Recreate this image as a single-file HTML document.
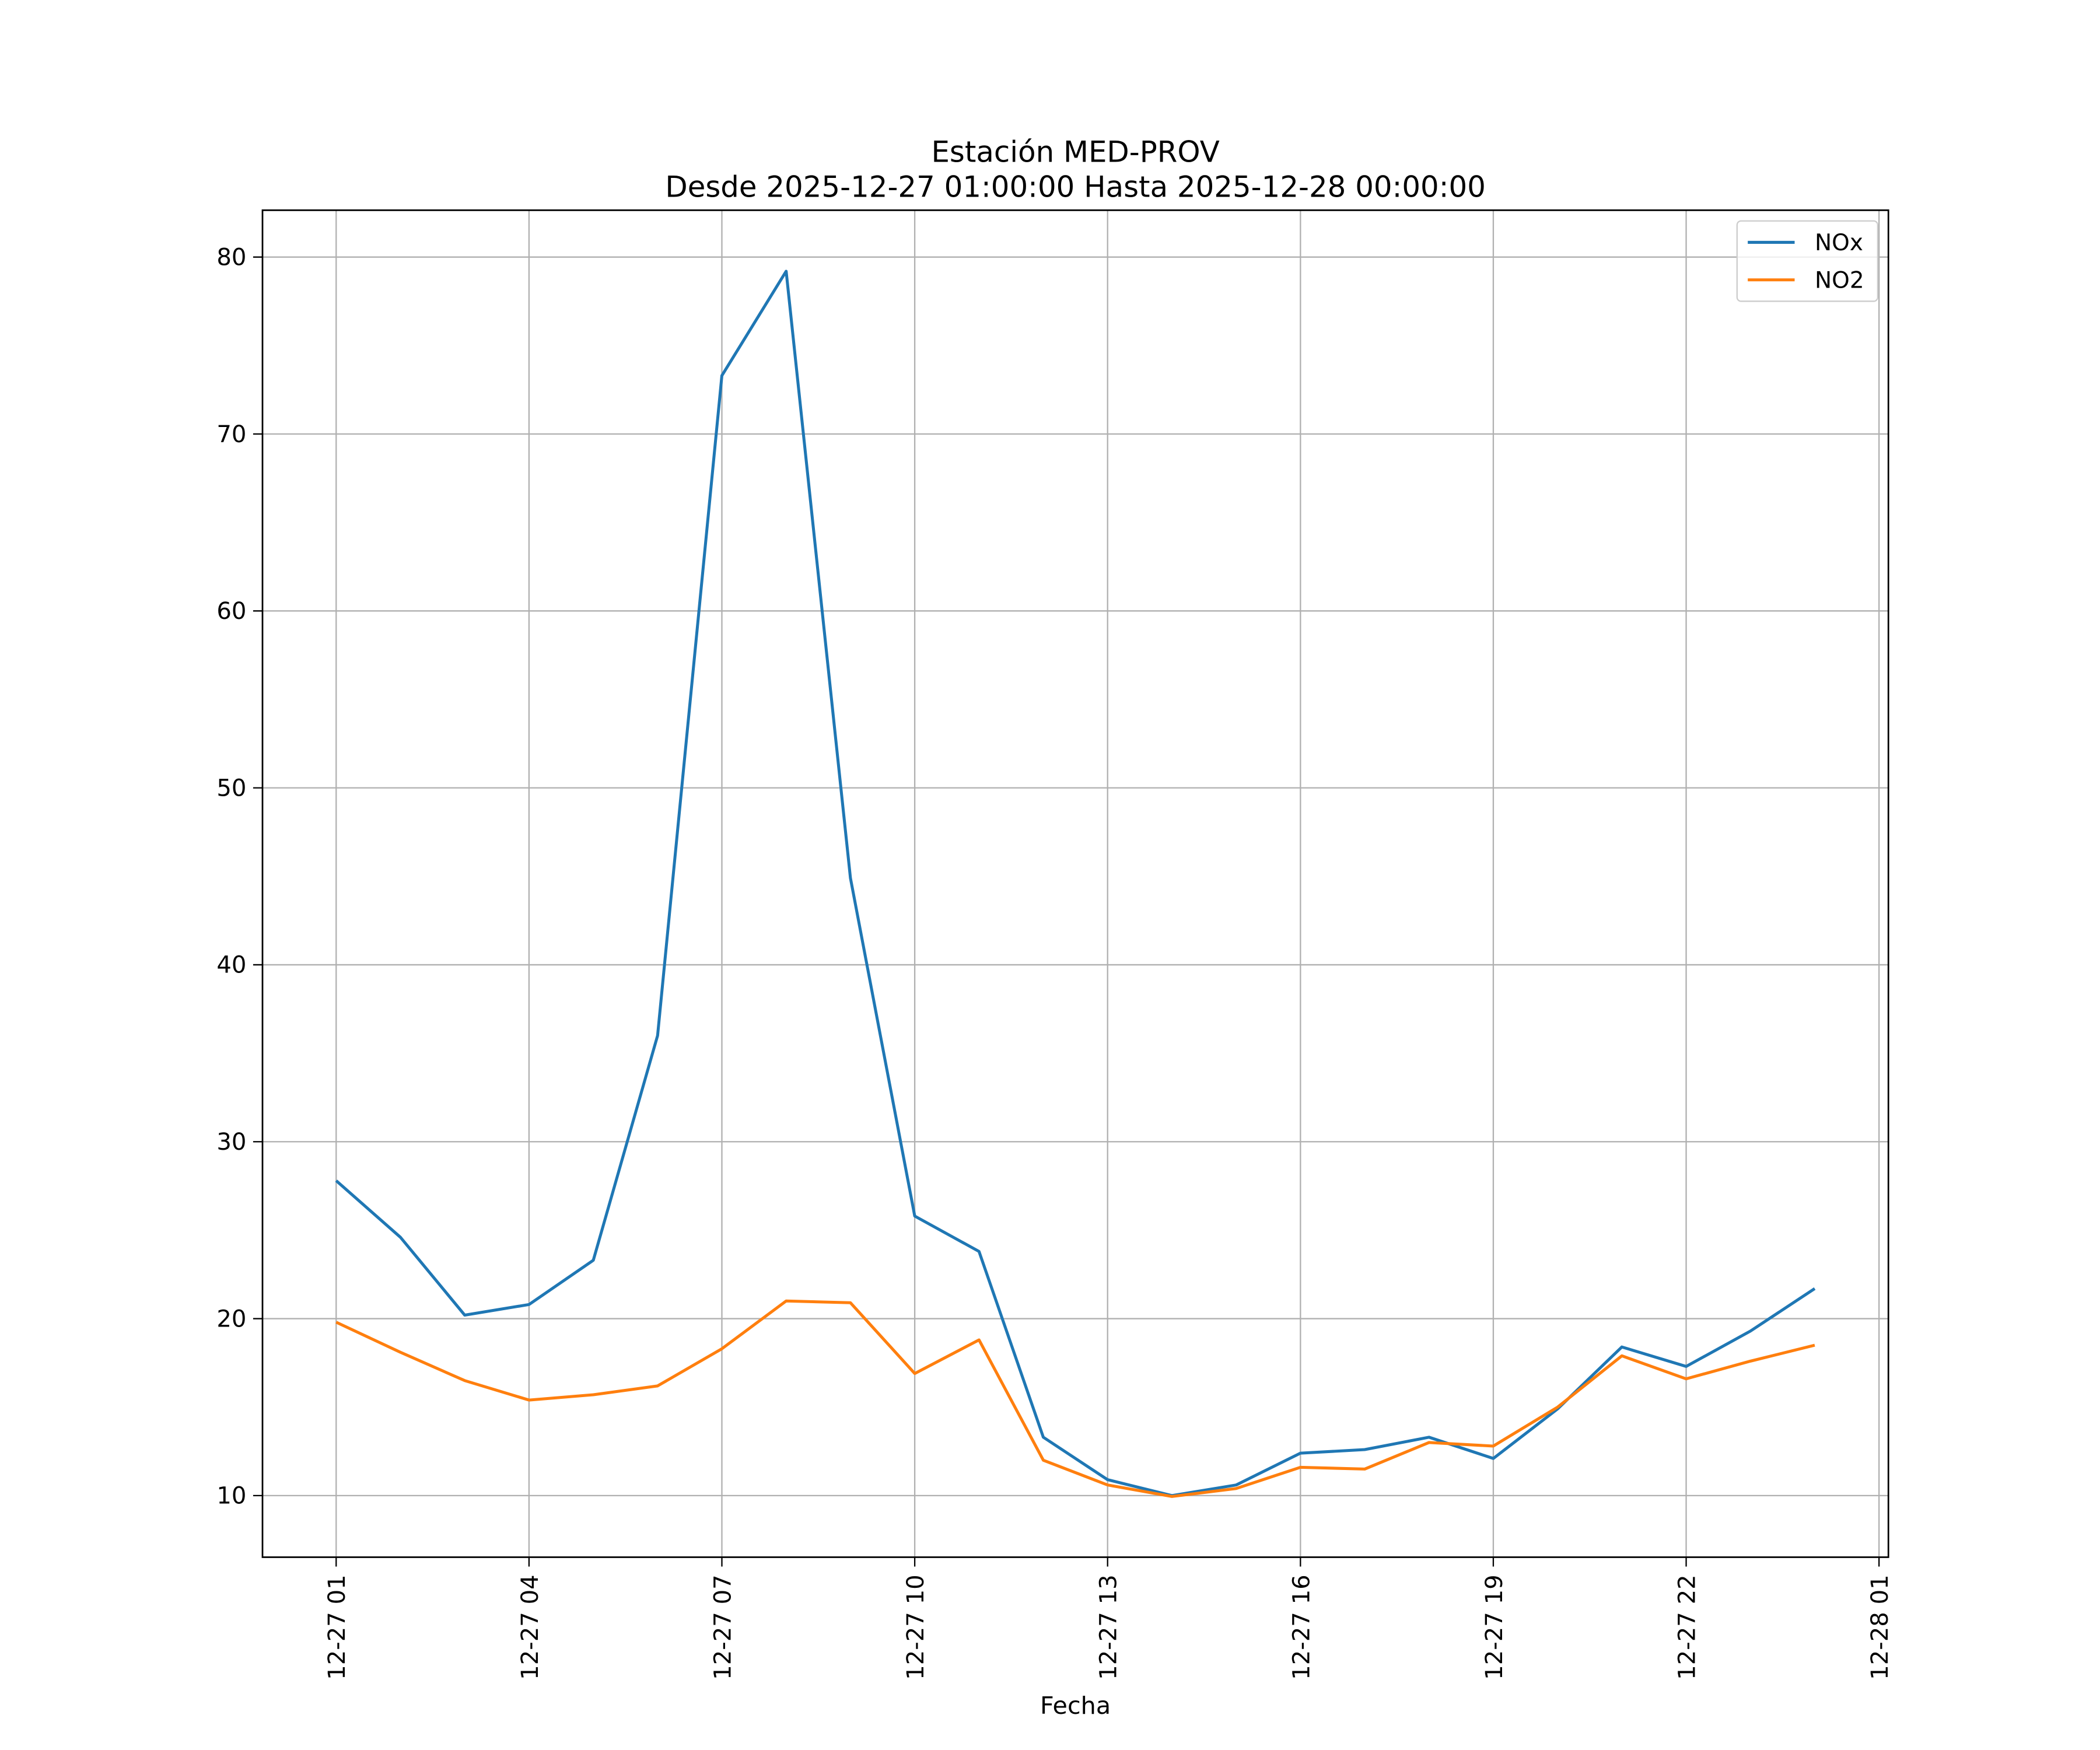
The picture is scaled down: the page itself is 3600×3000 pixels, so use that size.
<!DOCTYPE html>
<html><head><meta charset="utf-8"><style>
html,body{margin:0;padding:0;background:#fff;}
svg{display:block;font-family:"DejaVu Sans","Liberation Sans",sans-serif;}
</style></head><body>
<svg id="chart" width="3600" height="3000" viewBox="0 0 1568 1307" preserveAspectRatio="none" xmlns="http://www.w3.org/2000/svg">
<rect width="1568" height="1307" fill="#fff"/>
<g id="grid"></g>
<g id="series"></g>
<rect x="196" y="157" width="1214" height="1006" fill="none" stroke="#000" stroke-width="1.2"/>
<g id="ticks"></g>
<text x="803" y="121" text-anchor="middle" font-size="21.7">Estación MED-PROV</text>
<text x="803" y="147" text-anchor="middle" font-size="21.7">Desde 2025-12-27 01:00:00 Hasta 2025-12-28 00:00:00</text>
<text x="803" y="1280" text-anchor="middle" font-size="18">Fecha</text>
<g>
<rect x="1297" y="165" width="105" height="60" rx="3" fill="#fff" fill-opacity="0.8" stroke="#ccc"/>
<line x1="1305" y1="181" x2="1340" y2="181" stroke="#1f77b4" stroke-width="2.2"/>
<text x="1355" y="187" font-size="17">NOx</text>
<line x1="1305" y1="209" x2="1340" y2="209" stroke="#ff7f0e" stroke-width="2.2"/>
<text x="1355" y="215" font-size="17">NO2</text>
</g>
</svg>
<script>
const hours = [1,2,3,4,5,6,7,8,9,10,11,12,13,14,15,16,17,18,19,20,21,22,23,24];
const noxValues = [27.8,24.6,20.2,20.8,23.3,36.0,73.3,79.2,44.9,25.8,23.8,13.3,10.9,10.0,10.6,12.4,12.6,13.3,12.1,14.9,18.4,17.3,19.3,21.7];
const no2Values = [19.8,18.1,16.5,15.4,15.7,16.2,18.3,21.0,20.9,16.9,18.8,12.0,10.6,9.95,10.4,11.6,11.5,13.0,12.8,15.0,17.9,16.6,17.6,18.5];
const xTickHours = [1,4,7,10,13,16,19,22,25];
const xTickLabels = ["12-27 01","12-27 04","12-27 07","12-27 10","12-27 13","12-27 16","12-27 19","12-27 22","12-28 01"];
const yTicks = [10,20,30,40,50,60,70,80];
const NS="http://www.w3.org/2000/svg";
function xs(h){return 251+(h-1)*48;}
function ys(v){return 1117-(v-10)*(925/70);}
function mk(tag,attrs,parent){const e=document.createElementNS(NS,tag);for(const k in attrs)e.setAttribute(k,attrs[k]);parent.appendChild(e);return e;}
const grid=document.getElementById('grid'),ticks=document.getElementById('ticks'),series=document.getElementById('series');
xTickHours.forEach((h,i)=>{
  const x=xs(h);
  if(x<1410){const g=mk('line',{x1:x,x2:x,y1:157,y2:1163,stroke:'#b0b0b0','stroke-width':1},grid);
  
  }
  const t=mk('line',{x1:x,x2:x,y1:1163,y2:1170,stroke:'#000','stroke-width':1},ticks);
  
  
  const l=mk('text',{x:0,y:0,'text-anchor':'end','font-size':17.5,transform:`translate(${x+6.5},1176) rotate(-90)`},ticks);
  l.textContent=xTickLabels[i];
  
  
});
yTicks.forEach(v=>{
  const y=ys(v);
  const g=mk('line',{x1:196,x2:1410,y1:y,y2:y,stroke:'#b0b0b0','stroke-width':1},grid);
  
  
  const t=mk('line',{x1:189,x2:196,y1:y,y2:y,stroke:'#000','stroke-width':1},ticks);
  
  
  const l=mk('text',{x:184,y:y+6,'text-anchor':'end','font-size':17.5},ticks);
  l.textContent=String(v);
  
  
});
function pts(vals){return vals.map((v,i)=>xs(hours[i])+','+ys(v)).join(' ');}
const p1=mk('polyline',{points:pts(noxValues),fill:'none',stroke:'#1f77b4','stroke-width':2.2,'stroke-linejoin':'round'},series);


const p2=mk('polyline',{points:pts(no2Values),fill:'none',stroke:'#ff7f0e','stroke-width':2.2,'stroke-linejoin':'round'},series);


</script>
</body></html>
